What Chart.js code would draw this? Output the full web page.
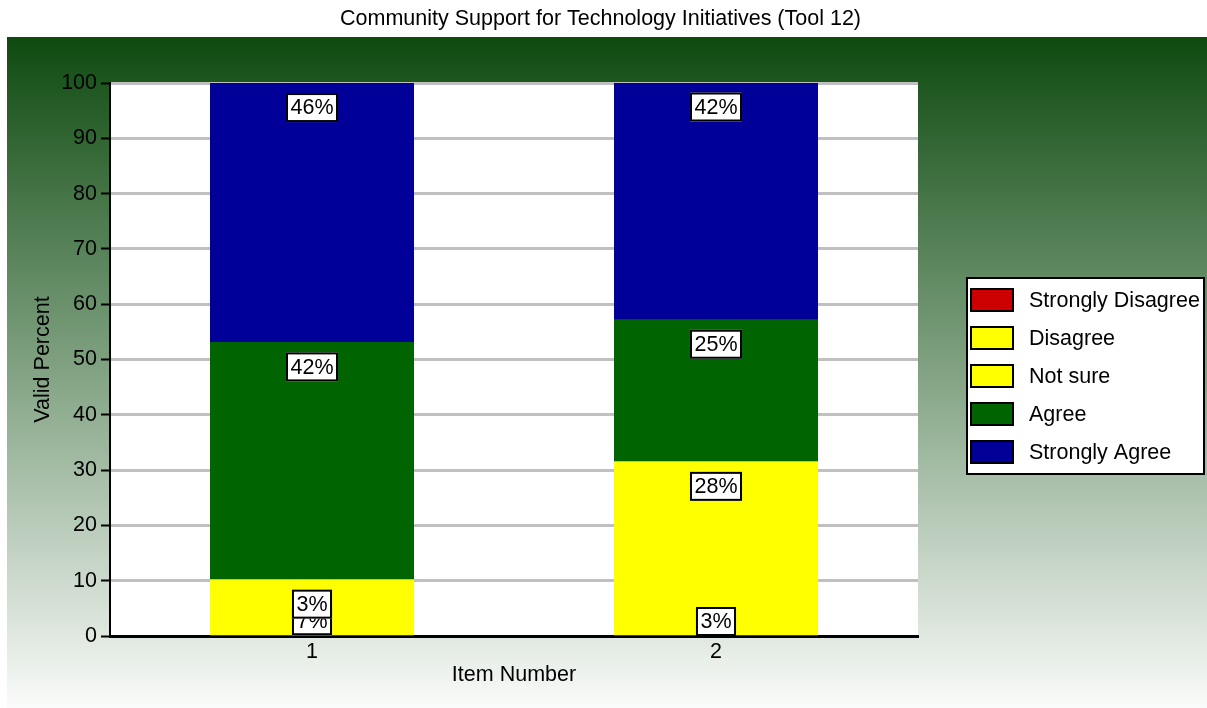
<!DOCTYPE html>
<html>
<head>
<meta charset="utf-8">
<title>Community Support for Technology Initiatives (Tool 12)</title>
<script src="https://cdn.jsdelivr.net/npm/chart.js@4/dist/chart.umd.min.js"></script>
<style>
  html, body { margin: 0; padding: 0; background: #fff; }
  #wrap { width: 1207px; height: 708px; }
</style>
</head>
<body>
<div id="wrap"><canvas id="supportChart" width="1207" height="708"></canvas></div>
<script>
// values (valid percent per item)
const chartTitle = 'Community Support for Technology Initiatives (Tool 12)';
const categories = ['1', '2'];
const seriesNames = ['Strongly Disagree', 'Disagree', 'Not sure', 'Agree', 'Strongly Agree'];
const stronglyDisagree = [0, 0];
const disagree = [7.1, 3.4];
const notSure = [3.0, 28.0];
const agree = [42.9, 25.7];
const stronglyAgree = [46.9, 42.9];
const yTicks = [0, 10, 20, 30, 40, 50, 60, 70, 80, 90, 100];

const seriesColors = ['#cc0000', '#ffff00', '#ffff00', '#006400', '#000099'];
const FONT = '"Liberation Sans", Arial, sans-serif';
const FONT_SIZE = 21.5;

(function () {
  'use strict';

  const canvas = document.getElementById('supportChart');
  const allSeries = [stronglyDisagree, disagree, notSure, agree, stronglyAgree];

  // panel background, white plot area and the title over the whole width
  const backdrop = {
    id: 'backdrop',
    beforeDraw: function (chart) {
      const ctx = chart.ctx;
      const area = chart.chartArea;
      ctx.save();
      ctx.fillStyle = '#ffffff';
      ctx.fillRect(0, 0, chart.width, chart.height);
      const grad = ctx.createLinearGradient(0, 37, 0, chart.height);
      grad.addColorStop(0, '#0e4a10');
      grad.addColorStop(0.5, '#82a383');
      grad.addColorStop(1, '#fafbfa');
      ctx.fillStyle = grad;
      ctx.fillRect(7, 37, chart.width - 7, chart.height - 37);
      ctx.fillStyle = '#ffffff';
      ctx.fillRect(area.left, area.top, area.right - area.left, area.bottom - area.top);

      ctx.fillStyle = '#000000';
      ctx.font = FONT_SIZE + 'px ' + FONT;
      ctx.textAlign = 'center';
      ctx.textBaseline = 'middle';
      ctx.fillText(chartTitle, chart.width / 2 - 3, 19);
      ctx.restore();
    }
  };

  // boxed percent labels a bit under the top of each segment
  const segmentLabels = {
    id: 'segmentLabels',
    afterDatasetsDraw: function (chart) {
      const ctx = chart.ctx;
      const bottom = chart.chartArea.bottom;
      ctx.save();
      ctx.font = FONT_SIZE + 'px ' + FONT;
      ctx.textAlign = 'center';
      ctx.textBaseline = 'middle';
      chart.data.datasets.forEach(function (dataset, i) {
        const meta = chart.getDatasetMeta(i);
        if (meta.hidden) return;
        meta.data.forEach(function (bar, index) {
          const v = dataset.data[index];
          if (!v || v <= 0) return;
          const text = Math.floor(v) + '%';
          const w = ctx.measureText(text).width + 9;
          const h = 29;
          let cy = Math.min(bar.y + 24, bottom - h / 2);
          ctx.fillStyle = '#ffffff';
          ctx.fillRect(bar.x - w / 2, cy - h / 2, w, h);
          ctx.strokeStyle = '#000000';
          ctx.lineWidth = 2;
          ctx.strokeRect(bar.x - w / 2 + 1, cy - h / 2 + 1, w - 2, h - 2);
          ctx.fillStyle = '#000000';
          ctx.fillText(text, bar.x, cy + 1);
        });
      });
      ctx.restore();
    }
  };

  // boxed legend on the right of the plot
  const boxLegend = {
    id: 'boxLegend',
    afterDraw: function (chart) {
      const ctx = chart.ctx;
      const area = chart.chartArea;
      const left = area.right + 48;
      const top = 277;
      const rowH = 38;
      const sets = chart.data.datasets;
      ctx.save();
      ctx.fillStyle = '#ffffff';
      ctx.fillRect(left, top, 239, 198);
      ctx.strokeStyle = '#000000';
      ctx.lineWidth = 2;
      ctx.strokeRect(left + 1, top + 1, 237, 196);
      ctx.font = FONT_SIZE + 'px ' + FONT;
      ctx.textBaseline = 'middle';
      ctx.textAlign = 'left';
      for (var i = 0; i < sets.length; i++) {
        var y = top + 11 + i * rowH;
        ctx.fillStyle = sets[i].backgroundColor;
        ctx.fillRect(left + 4, y, 44, 24);
        ctx.strokeStyle = '#000000';
        ctx.strokeRect(left + 5, y + 1, 42, 22);
        ctx.fillStyle = '#000000';
        ctx.fillText(sets[i].label, left + 63, y + 13);
      }
      ctx.restore();
    }
  };

  const datasets = seriesNames.map(function (name, i) {
    return {
      label: name,
      data: allSeries[i],
      backgroundColor: seriesColors[i],
      borderWidth: 0,
      inflateAmount: 1,
      barPercentage: 0.5,
      categoryPercentage: 1.0
    };
  });

  new Chart(canvas, {
    type: 'bar',
    data: {
      labels: categories,
      datasets: datasets
    },
    options: {
      responsive: false,
      animation: false,
      layout: {
        padding: { left: 0, right: 289, top: 83, bottom: 0 }
      },
      scales: {
        x: {
          stacked: true,
          grid: { display: false, drawTicks: false },
          border: { display: true, color: '#000000', width: 3 },
          ticks: {
            color: '#000000',
            padding: 3,
            font: { family: FONT, size: FONT_SIZE }
          },
          title: {
            display: true,
            text: 'Item Number',
            color: '#000000',
            padding: { top: 0, bottom: 20 },
            font: { family: FONT, size: FONT_SIZE }
          },
          afterFit: function (scale) { scale.height = 72; }
        },
        y: {
          stacked: true,
          min: 0,
          max: 100,
          afterBuildTicks: function (scale) {
            scale.ticks = yTicks.map(function (v) { return { value: v }; });
          },
          grid: {
            color: '#c0c0c0',
            lineWidth: 3,
            drawTicks: true,
            tickLength: 9,
            tickColor: '#000000',
            tickWidth: 2
          },
          border: { display: true, color: '#000000', width: 2 },
          ticks: {
            color: '#000000',
            padding: 4,
            font: { family: FONT, size: FONT_SIZE }
          },
          title: {
            display: true,
            text: 'Valid Percent',
            color: '#000000',
            padding: { top: 30, bottom: 0 },
            font: { family: FONT, size: FONT_SIZE }
          },
          afterFit: function (scale) { scale.width = 110; }
        }
      },
      plugins: {
        legend: { display: false },
        tooltip: { enabled: false },
        title: { display: false }
      }
    },
    plugins: [backdrop, segmentLabels, boxLegend]
  });
})();
</script>
</body>
</html>
